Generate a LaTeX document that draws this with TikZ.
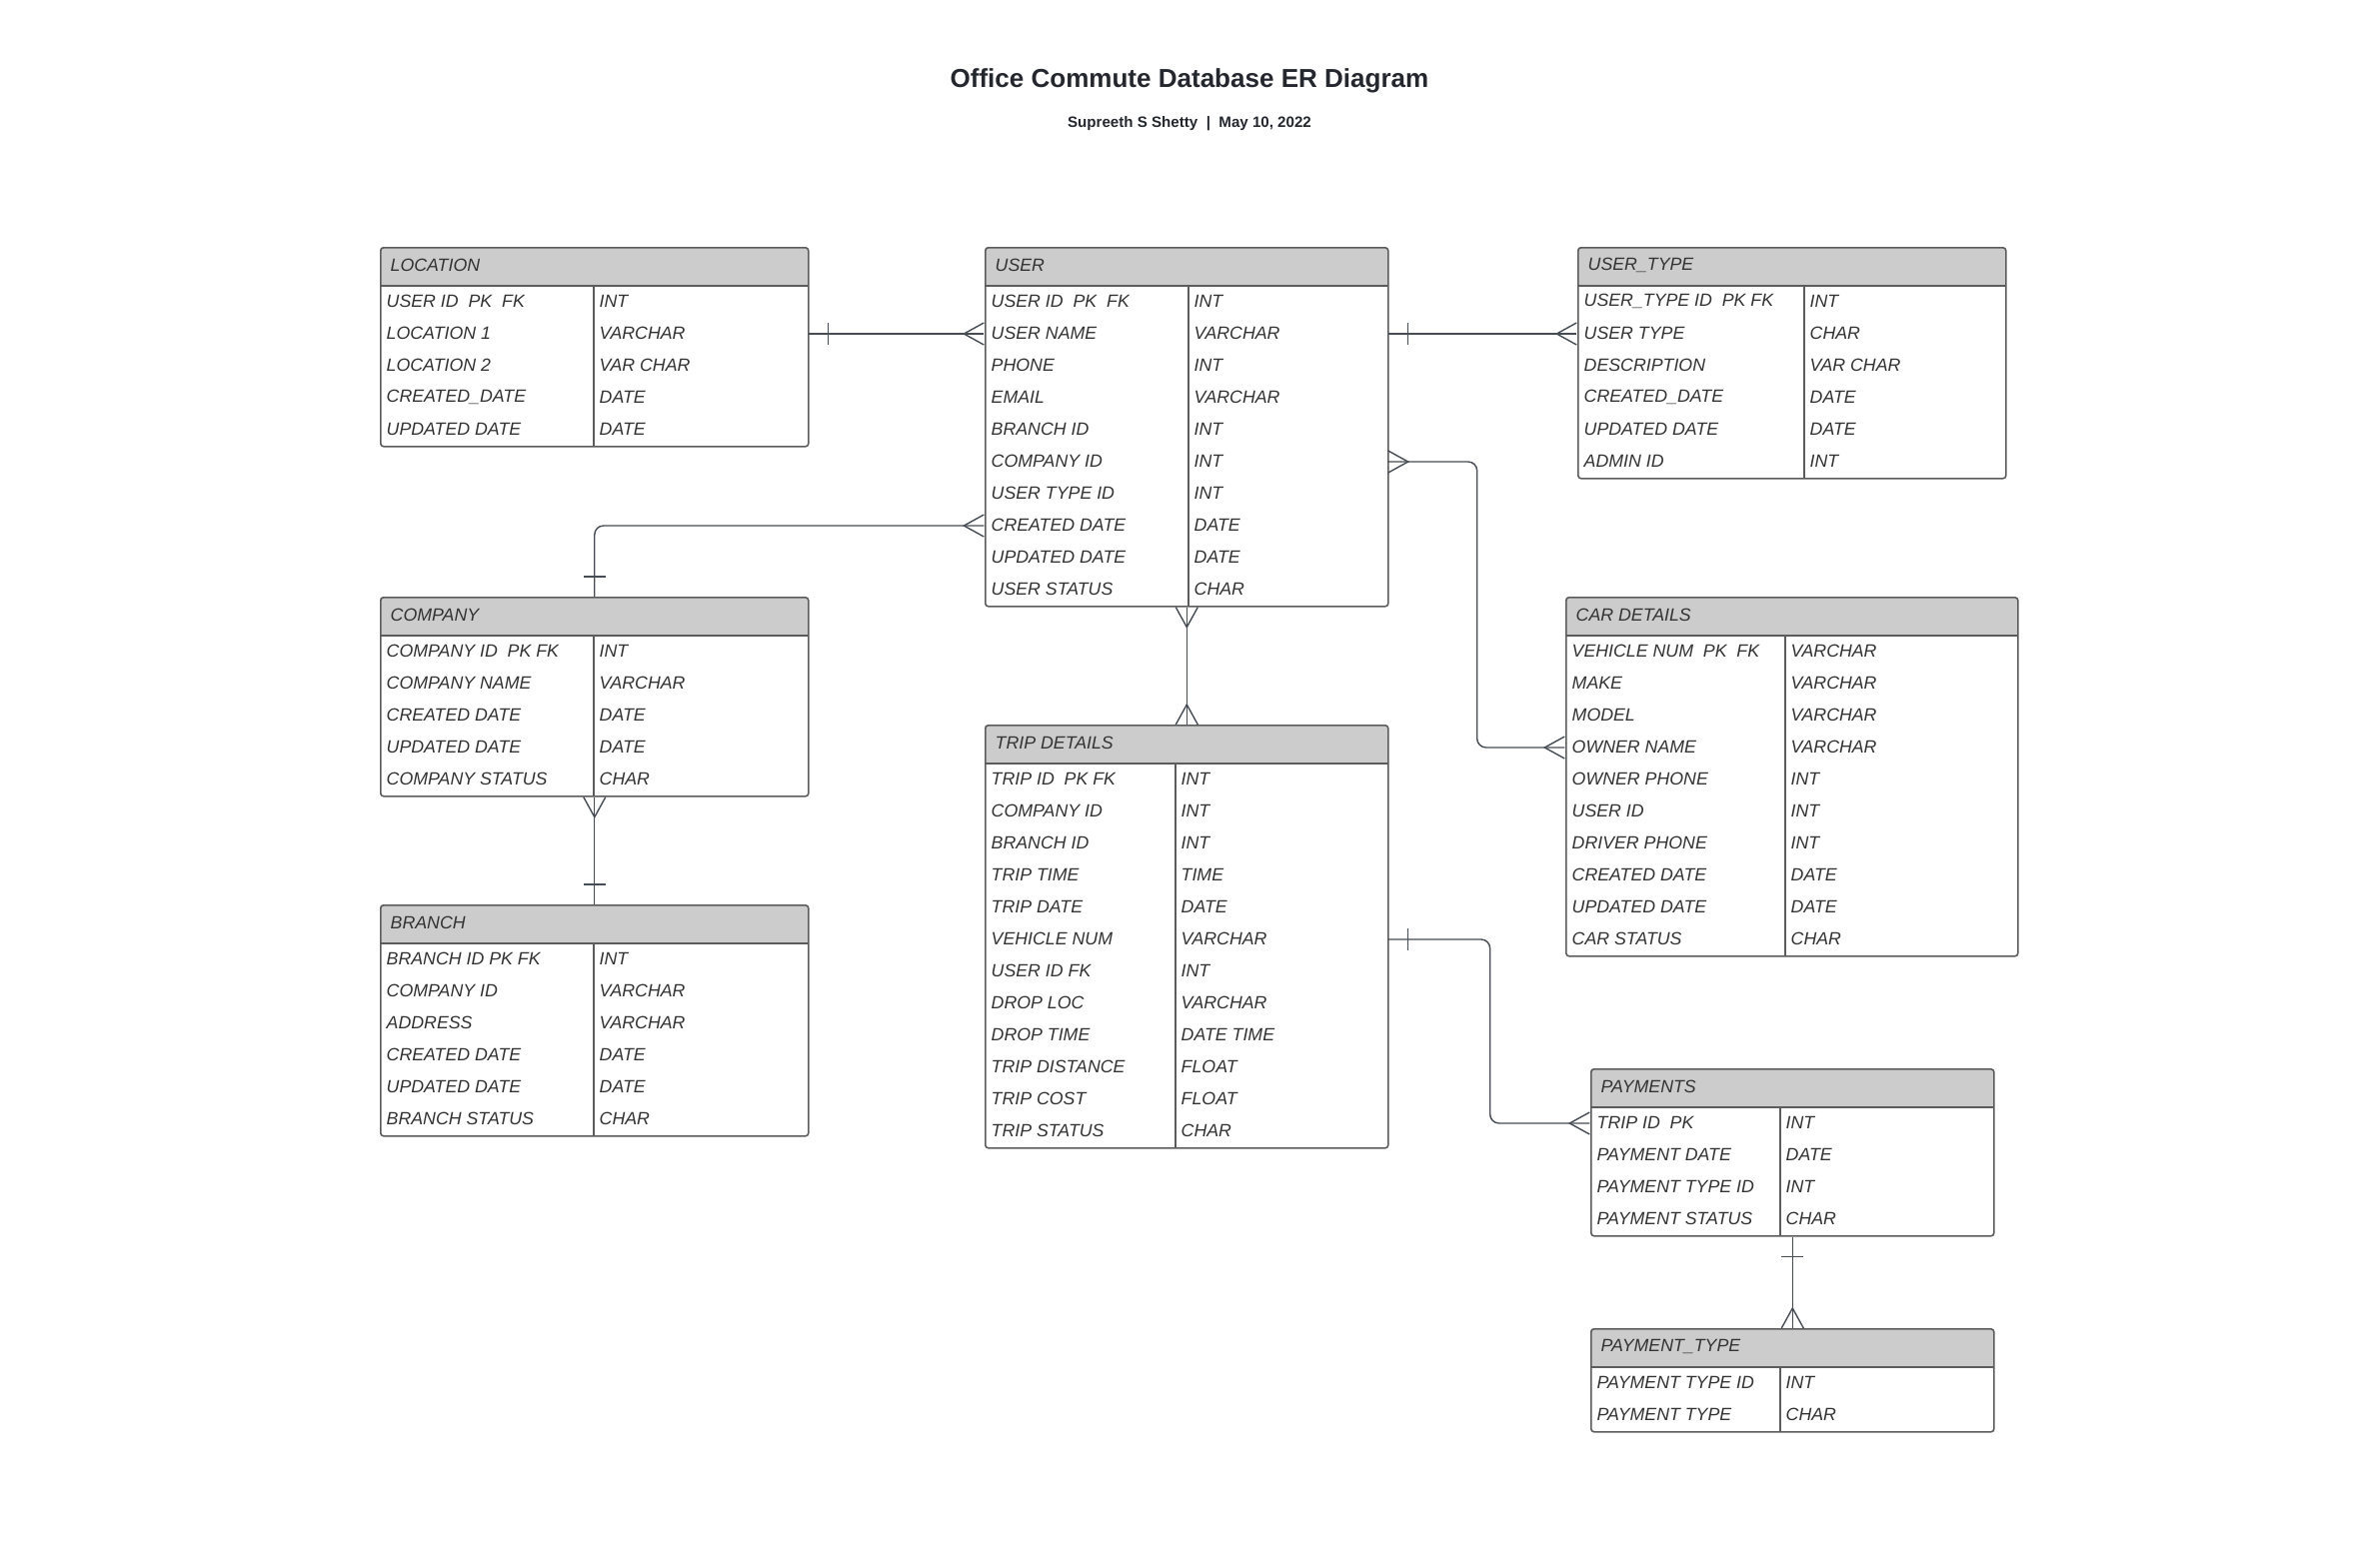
\documentclass[tikz,border=0pt]{standalone}
\usepackage{fontspec}
\setmainfont{Liberation Sans}
\usepackage{tikz}
\usetikzlibrary{arrows.meta, positioning}

\definecolor{erhead}{HTML}{CCCCCC}
\definecolor{erline}{HTML}{5C5C5C}
\definecolor{erlink}{HTML}{474D55}
\definecolor{ertext}{HTML}{333333}
\definecolor{ertitle}{HTML}{24282E}

% crow's foot (many) and single bar (one)
\pgfdeclarearrow{
  name = crowfoot,
  defaults = {length = 0.2cm, width = 0.22cm},
  setup code = {
    \pgfarrowssettipend{0pt}
    \pgfarrowssetlineend{0pt}
    \pgfarrowssetbackend{-\pgfarrowlength}
    \pgfarrowssavethe\pgfarrowlength
    \pgfarrowssavethe\pgfarrowwidth
  },
  drawing code = {
    \pgfpathmoveto{\pgfqpoint{0pt}{.5\pgfarrowwidth}}
    \pgfpathlineto{\pgfqpoint{-\pgfarrowlength}{0pt}}
    \pgfpathlineto{\pgfqpoint{0pt}{-.5\pgfarrowwidth}}
    \pgfusepathqstroke
  },
  parameters = {\the\pgfarrowlength,\the\pgfarrowwidth},
}
\pgfdeclarearrow{
  name = onebar,
  defaults = {length = 0.2cm, width = 0.22cm},
  setup code = {
    \pgfarrowssettipend{0pt}
    \pgfarrowssetlineend{0pt}
    \pgfarrowssetbackend{-\pgfarrowlength}
    \pgfarrowssavethe\pgfarrowlength
    \pgfarrowssavethe\pgfarrowwidth
  },
  drawing code = {
    \pgfpathmoveto{\pgfqpoint{-\pgfarrowlength}{.5\pgfarrowwidth}}
    \pgfpathlineto{\pgfqpoint{-\pgfarrowlength}{-.5\pgfarrowwidth}}
    \pgfusepathqstroke
  },
  parameters = {\the\pgfarrowlength,\the\pgfarrowwidth},
}

% #1 name, #2 left, #3 top, #4 width, #5 divider, #6 title, #7 fields
\newcommand{\ertable}[7]{%
  \fill[erhead, rounded corners=0.03cm] (#2,#3) rectangle ++(#4,39);
  \fill[erhead] (#2,#3+20) rectangle ++(#4,19);
  \node[headtext] (#1-h) at (#2+10,#3+18.5) {#6};
  \foreach \fld/\typ [count=\i] in {#7} {
    \node[fieldrow, minimum width=#4*0.01cm] (#1-\i) at (#2+#4/2,#3+39+32*\i-16) {};
    \node[fieldtext] (#1-\i-f) at (#2+6,#3+39+32*\i-17) {\fld};
    \node[fieldtext] (#1-\i-t) at (#2+#5+5,#3+39+32*\i-17) {\typ};
    \xdef\errows{\i}
  }
  \draw[tabline] (#2,#3+39) -- ++(#4,0);
  \draw[tabline] (#2+#5,#3+39) -- (#2+#5,#3+39+32*\errows);
  \node[tabframe, minimum width=#4*0.01cm, minimum height=(39+32*\errows)*0.01cm] (#1) at (#2,#3) {};
}

\begin{document}
\begin{tikzpicture}[
        x=0.01cm, y=-0.01cm,
        headtext/.style={anchor=west, inner sep=0pt, text=ertext, font=\fontsize{5.05}{6}\selectfont\itshape},
        fieldtext/.style={anchor=west, inner sep=0pt, text=ertext, font=\fontsize{5.05}{6}\selectfont\itshape},
        fieldrow/.style={inner sep=0pt, minimum height=0.32cm},
        tabline/.style={draw=erline, line width=0.45pt},
        tabframe/.style={draw=erline, line width=0.45pt, rounded corners=0.03cm, anchor=north west, inner sep=0pt},
        link/.style={draw=erlink, line width=0.4pt, rounded corners=0.09cm},
        titletext/.style={anchor=base, inner sep=0pt, text=ertitle, font=\fontsize{7.4}{9}\selectfont\bfseries},
        bytext/.style={anchor=base, inner sep=0pt, text=ertitle, font=\fontsize{4.3}{5}\selectfont\bfseries}
    ]
    \fill[white] (0,0) rectangle (2365,1569);
    \useasboundingbox (0,0) rectangle (2365,1569);

    % Title
    \node[titletext] (title) at (1190,87) {Office Commute Database ER Diagram};
    \node[bytext] (byline) at (1190,127) {Supreeth S Shetty\ \ |\ \ May 10, 2022};

    % Tables
    \ertable{location}{380}{247}{428}{214}{LOCATION}{USER ID\ \ PK\ \ FK/INT, LOCATION 1/VARCHAR, LOCATION 2/VAR CHAR, CREATED\_DATE/DATE, UPDATED DATE/DATE}
    \ertable{user}{985}{247}{403}{204}{USER}{USER ID\ \ PK\ \ FK/INT, USER NAME/VARCHAR, PHONE/INT, EMAIL/VARCHAR, BRANCH ID/INT, COMPANY ID/INT, USER TYPE ID/INT, CREATED DATE/DATE, UPDATED DATE/DATE, USER STATUS/CHAR}
    \ertable{usertype}{1578}{247}{428}{227}{USER\_TYPE}{USER\_TYPE ID\ \ PK FK/INT, USER TYPE/CHAR, DESCRIPTION/VAR CHAR, CREATED\_DATE/DATE, UPDATED DATE/DATE, ADMIN ID/INT}
    \ertable{company}{380}{597}{428}{214}{COMPANY}{COMPANY ID\ \ PK FK/INT, COMPANY NAME/VARCHAR, CREATED DATE/DATE, UPDATED DATE/DATE, COMPANY STATUS/CHAR}
    \ertable{branch}{380}{905}{428}{214}{BRANCH}{BRANCH ID PK FK/INT, COMPANY ID/VARCHAR, ADDRESS/VARCHAR, CREATED DATE/DATE, UPDATED DATE/DATE, BRANCH STATUS/CHAR}
    \ertable{trip}{985}{725}{403}{191}{TRIP DETAILS}{TRIP ID\ \ PK FK/INT, COMPANY ID/INT, BRANCH ID/INT, TRIP TIME/TIME, TRIP DATE/DATE, VEHICLE NUM/VARCHAR, USER ID FK/INT, DROP LOC/VARCHAR, DROP TIME/DATE TIME, TRIP DISTANCE/FLOAT, TRIP COST/FLOAT, TRIP STATUS/CHAR}
    \ertable{car}{1566}{597}{452}{220}{CAR DETAILS}{VEHICLE NUM\ \ PK\ \ FK/VARCHAR, MAKE/VARCHAR, MODEL/VARCHAR, OWNER NAME/VARCHAR, OWNER PHONE/INT, USER ID/INT, DRIVER PHONE/INT, CREATED DATE/DATE, UPDATED DATE/DATE, CAR STATUS/CHAR}
    \ertable{payments}{1591}{1069}{403}{190}{PAYMENTS}{TRIP ID\ \ PK/INT, PAYMENT DATE/DATE, PAYMENT TYPE ID/INT, PAYMENT STATUS/CHAR}
    \ertable{paytype}{1591}{1329}{403}{190}{PAYMENT\_TYPE}{PAYMENT TYPE ID/INT, PAYMENT TYPE/CHAR}

    % Relationships
    \draw[link, {onebar}-{crowfoot}] (location-2.east) -- (user-2.west);
    \draw[link, {onebar}-{crowfoot}] (user-2.east) -- (usertype-2.west);
    \draw[link, {crowfoot}-{onebar}] (user-8.west) -| (company.north);
    \draw[link, {crowfoot}-{crowfoot}] (user-6.east) -- ++(89,0) |- (car-4.west);
    \draw[link, {crowfoot}-{crowfoot}] (user.south) -- (trip.north);
    \draw[link, {crowfoot}-{onebar}] (company.south) -- (branch.north);
    \draw[link, {onebar}-{crowfoot}] (trip-6.east) -- ++(102,0) |- (payments-1.west);
    \draw[link, {onebar}-{crowfoot}] (payments.south) -- (paytype.north);
\end{tikzpicture}
\end{document}
